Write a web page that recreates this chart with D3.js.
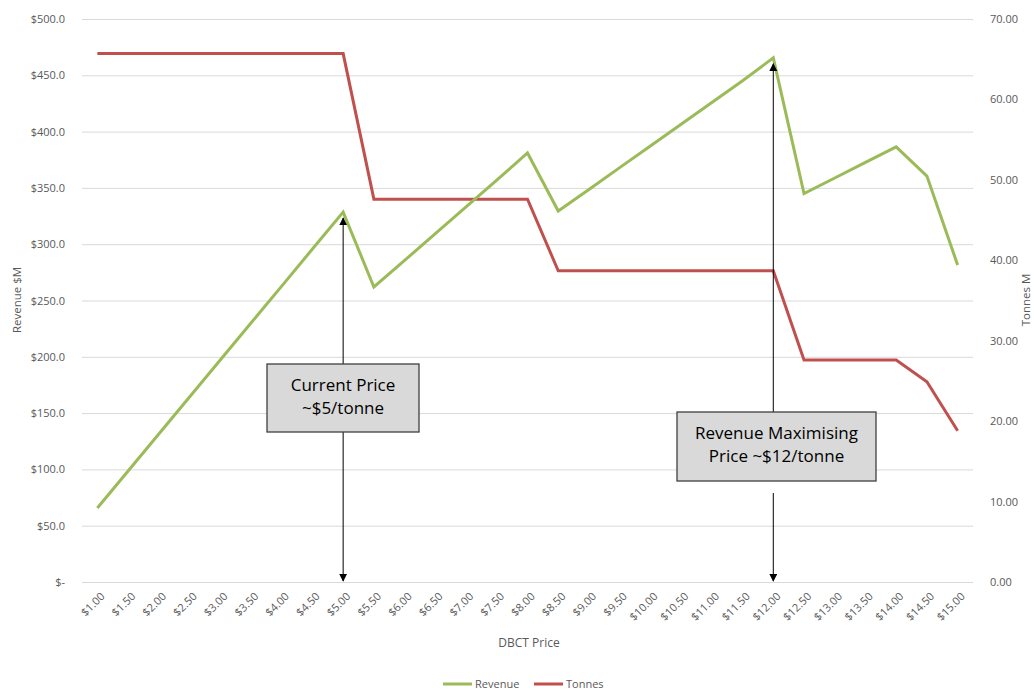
<!DOCTYPE html>
<html lang="en">
    <head>
        <meta charset="utf-8">
        <script type="text/javascript" src="https://d3js.org/d3.v7.min.js"></script>
        <style type="text/css">
          body { margin: 0; background: white; }
          text { font-family: "Open Sans", "Liberation Sans", sans-serif; }
          .tick text { fill: #595959; font-size: 11px; }
          .grid line { stroke: #d9d9d9; }
          .grid path { display: none; }
        </style>
    </head>
    <body>
      <script type="text/javascript">
        // categories on the x axis
        var prices = ["$1.00", "$1.50", "$2.00", "$2.50", "$3.00", "$3.50", "$4.00", "$4.50", "$5.00",
                      "$5.50", "$6.00", "$6.50", "$7.00", "$7.50", "$8.00", "$8.50", "$9.00", "$9.50",
                      "$10.00", "$10.50", "$11.00", "$11.50", "$12.00", "$12.50", "$13.00", "$13.50",
                      "$14.00", "$14.50", "$15.00"];

        // revenue in $M (left axis)
        var revenue = [65.7, 98.6, 131.4, 164.3, 197.1, 230.0, 262.8, 295.7, 328.5,
                       262.0, 285.6, 309.4, 333.2, 357.0, 381.0,
                       329.5, 348.5, 368.0, 387.2, 406.5, 425.8, 445.2, 465.5,
                       345.0, 358.8, 372.6, 386.5, 360.5, 281.5];

        // tonnes in M (right axis)
        var tonnes = [65.7, 65.7, 65.7, 65.7, 65.7, 65.7, 65.7, 65.7, 65.7,
                      47.6, 47.6, 47.6, 47.6, 47.6, 47.6,
                      38.7, 38.7, 38.7, 38.7, 38.7, 38.7, 38.7, 38.7,
                      27.6, 27.6, 27.6, 27.6, 24.9, 18.8];

        var leftTicks = [0, 50, 100, 150, 200, 250, 300, 350, 400, 450, 500];
        var rightTicks = [0, 10, 20, 30, 40, 50, 60, 70];

        // annotations: label lines, the price they point at
        var notes = [
          {lines: ["Current Price", "~$5/tonne"], price: "$5.00", box: [267, 364, 152, 68]},
          {lines: ["Revenue Maximising", "Price ~$12/tonne"], price: "$12.00", box: [677, 412, 199, 69]}
        ];

        var w = 1034;
        var h = 691;
        var pLeft = 82, pRight = 973, pTop = 19, pBottom = 582;

        var svg = d3.select("body").append("svg").attr("width", w).attr("height", h);

        var defs = svg.append("defs");
        defs.append("marker").attr("id", "head")
            .attr("viewBox", "0 0 10 10").attr("refX", 9).attr("refY", 5)
            .attr("markerWidth", 8).attr("markerHeight", 8)
            .attr("markerUnits", "userSpaceOnUse")
            .attr("orient", "auto")
          .append("path").attr("d", "M0,0 L10,5 L0,10 z").attr("fill", "black");

        var xScale = d3.scaleBand().domain(prices).range([pLeft, pRight]);
        var yLeft = d3.scaleLinear().domain([0, 500]).range([pBottom, pTop]);
        var yRight = d3.scaleLinear().domain([0, 70]).range([pBottom, pTop]);

        // gridlines
        svg.append("g")
           .attr("class", "grid")
           .attr("transform", "translate(" + pLeft + ",0)")
           .call(d3.axisLeft(yLeft).tickValues(leftTicks).tickSize(-(pRight - pLeft)).tickFormat(""));

        // left axis
        var fmtLeft = function(d) { return d === 0 ? "$-" : "$" + d.toFixed(1); };
        var gl = svg.append("g")
           .attr("transform", "translate(" + (pLeft - 10) + ",0)")
           .call(d3.axisLeft(yLeft).tickValues(leftTicks).tickSize(0).tickFormat(fmtLeft));
        gl.select(".domain").remove();
        gl.selectAll(".tick text").attr("dx", "-4");

        // right axis
        var gr = svg.append("g")
           .attr("transform", "translate(" + (pRight + 10) + ",0)")
           .call(d3.axisRight(yRight).tickValues(rightTicks).tickSize(0).tickFormat(function(d) { return d.toFixed(2); }));
        gr.select(".domain").remove();
        gr.selectAll(".tick text").attr("dx", "4");

        // x axis
        var gx = svg.append("g")
           .attr("transform", "translate(0," + pBottom + ")")
           .call(d3.axisBottom(xScale).tickSize(0));
        gx.select(".domain").remove();
        gx.selectAll(".tick text")
          .attr("text-anchor", "end")
          .attr("dx", "0")
          .attr("dy", "0")
          .attr("transform", "translate(6,13) rotate(-45)");

        // axis titles
        svg.append("text").attr("transform", "translate(21,300) rotate(-90)")
           .attr("text-anchor", "middle").attr("fill", "#595959").style("font-size", "11.5px")
           .text("Revenue $M");
        svg.append("text").attr("transform", "translate(1030,300) rotate(-90)")
           .attr("text-anchor", "middle").attr("fill", "#595959").style("font-size", "11.5px")
           .text("Tonnes M");
        svg.append("text").attr("x", 529).attr("y", 647)
           .attr("text-anchor", "middle").attr("fill", "#595959").style("font-size", "12px")
           .text("DBCT Price");

        // lines
        var cx = function(i) { return xScale(prices[i]) + xScale.bandwidth() / 2; };
        var revLine = d3.line().x(function(d, i) { return cx(i); }).y(function(d) { return yLeft(d); });
        var tonLine = d3.line().x(function(d, i) { return cx(i); }).y(function(d) { return yRight(d); });

        svg.append("path").datum(tonnes).attr("d", tonLine)
           .attr("fill", "none").attr("stroke", "#c0504d").attr("stroke-width", 3);
        svg.append("path").datum(revenue).attr("d", revLine)
           .attr("fill", "none").attr("stroke", "#9bbb59").attr("stroke-width", 3);

        // annotation arrows and boxes
        notes.forEach(function(n) {
          var i = prices.indexOf(n.price);
          var x = cx(i);
          var b = n.box;
          // upward arrow to the revenue point
          svg.append("line").attr("x1", x).attr("x2", x)
             .attr("y1", b[1]).attr("y2", yLeft(revenue[i]) + 6)
             .attr("stroke", "black").attr("stroke-width", 1)
             .attr("marker-end", "url(#head)");
          // downward arrow to the axis
          svg.append("line").attr("x1", x).attr("x2", x)
             .attr("y1", i === 8 ? b[1] + b[3] : b[1] + b[3] + 12).attr("y2", pBottom - 1)
             .attr("stroke", "black").attr("stroke-width", 1)
             .attr("marker-end", "url(#head)");
          svg.append("rect").attr("x", b[0]).attr("y", b[1]).attr("width", b[2]).attr("height", b[3])
             .attr("fill", "#d9d9d9").attr("stroke", "#404040").attr("stroke-width", 1.3);
          n.lines.forEach(function(t, k) {
            svg.append("text").attr("x", b[0] + b[2] / 2).attr("y", b[1] + 27 + k * 23)
               .attr("text-anchor", "middle").attr("fill", "black").style("font-size", "17px")
               .text(t);
          });
        });

        // legend
        var legend = [{name: "Revenue", color: "#9bbb59", x: 443}, {name: "Tonnes", color: "#c0504d", x: 534}];
        legend.forEach(function(l) {
          svg.append("line").attr("x1", l.x).attr("x2", l.x + 29).attr("y1", 684).attr("y2", 684)
             .attr("stroke", l.color).attr("stroke-width", 3);
          svg.append("text").attr("x", l.x + 32).attr("y", 688)
             .attr("fill", "#595959").style("font-size", "11px").text(l.name);
        });
      </script>
    </body>
</html>
